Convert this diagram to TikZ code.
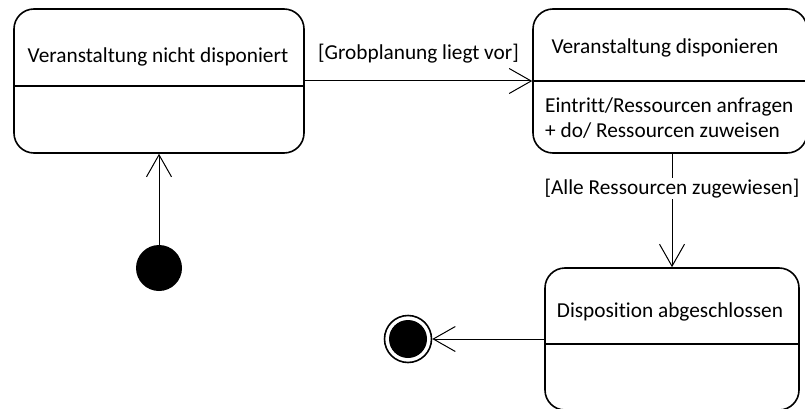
\documentclass[tikz,border=0pt]{standalone}
\usepackage{fontspec}
\setmainfont{Carlito}[Ligatures=NoCommon]
\usetikzlibrary{arrows.meta}

\begin{document}
\begin{tikzpicture}[x=1pt,y=-1pt,
  font=\fontsize{21.3}{25}\selectfont,
  statebox/.style={draw, line width=1.6pt, rounded corners=20pt, rectangle,
    inner sep=0pt, fill=white},
  divider/.style={line width=1.6pt},
  trans/.style={line width=1pt, -{Straight Barb[length=22pt,width=25pt,line width=1pt]}},
  guard/.style={inner sep=1pt}
]
\useasboundingbox (0,0) rectangle (805,409);
\clip (0,0) rectangle (805,409);

% states
\node[statebox, minimum width=290pt, minimum height=144pt] (s1) at (159,81) {};
\node[statebox, minimum width=274pt, minimum height=144pt] (s2) at (670,81) {};
\node[statebox, minimum width=254pt, minimum height=142pt] (s3) at (672,339) {};

% compartment lines
\draw[divider] (s1.west |- 0,86) -- (s1.east |- 0,86);
\draw[divider] (s2.west) -- (s2.east);
\draw[divider] (s3.west |- 0,344) -- (s3.east |- 0,344);

% state names and activities
\node (t1) at (158,57) {Veranstaltung nicht disponiert};
\node (t2) at (665,48) {Veranstaltung disponieren};
\node[anchor=west, align=left, inner sep=0pt] (t2b) at (545,118)
  {Eintritt/Ressourcen anfragen\\+ do/ Ressourcen zuweisen};
\node (t3) at (670,312) {Disposition abgeschlossen};

% pseudo states
\node[circle, fill=black, minimum size=46pt, inner sep=0pt] (init) at (159,268) {};
\node[circle, draw, line width=1.6pt, minimum size=47pt, inner sep=0pt] (final) at (408,339) {};
\node[circle, fill=black, minimum size=38pt, inner sep=0pt] (finalcore) at (final.center) {};

% transitions
\draw[trans] (init) -- (s1);
\draw[trans] (s1) -- node[guard, yshift=27pt] (g1) {[Grobplanung liegt vor]} (s2);
\draw[trans] (s3.north |- s2.south) -- node[guard, pos=0.31, fill=white] (g2) {[Alle Ressourcen zugewiesen]} (s3.north);
\draw[trans] (s3.west) -- (final);
\end{tikzpicture}
\end{document}
